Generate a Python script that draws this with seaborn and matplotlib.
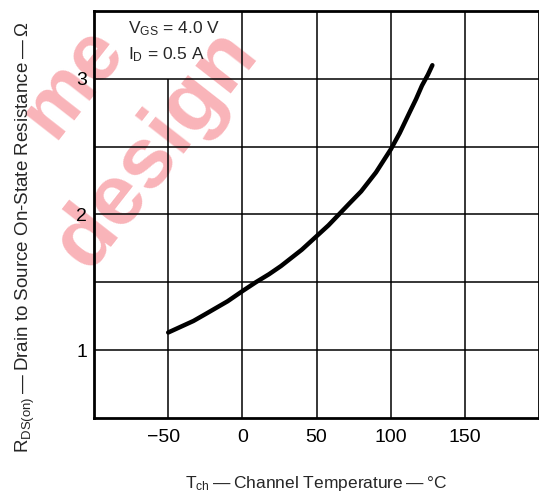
import numpy as np
import pandas as pd
import matplotlib
matplotlib.use("Agg")
import matplotlib.pyplot as plt
import matplotlib.transforms as mtransforms
import seaborn as sns

# curve
temp_c = [-50, -40, -33, -25, -10, 0, 9, 18, 26, 40, 50, 58, 65, 72, 80, 90, 100, 106, 113, 117, 121, 125, 128]
rds_on = [1.13, 1.18, 1.215, 1.265, 1.36, 1.435, 1.50, 1.56, 1.62, 1.74, 1.84, 1.92, 2.00, 2.08, 2.17, 2.31, 2.48, 2.60, 2.76, 2.85, 2.95, 3.03, 3.10]

x_ticks = [-50, 0, 50, 100, 150]
x_tick_labels = ["\u221250", "0", "50", "100", "150"]
y_ticks = [1, 2, 3]
y_tick_labels = ["1", "2", "3"]
x_grid = [-50, 0, 50, 100, 150]
x_grid_top = [3.0, 3.5, 3.5, 3.5, 3.5]
y_grid = [1.0, 1.5, 2.0, 2.5, 3.0]

sns.set_style("white")
plt.rcParams['font.family'] = ['Liberation Sans', 'DejaVu Sans']
plt.rcParams['mathtext.fontset'] = 'custom'
plt.rcParams['mathtext.rm'] = 'Liberation Sans'

fig = plt.figure(figsize=(5.39, 4.97), dpi=100)
ax = fig.add_axes([0.1744, 0.159, 0.826, 0.819])

# watermark (kept inside the frame, behind everything)
wm = dict(color='#f9b4b9', fontweight='bold', rotation=52,
          ha='center', va='center', zorder=-1, transform=fig.transFigure)
fig.text(0.29, 0.70, "design", fontsize=62, **wm)
fig.text(0.135, 0.835, "me", fontsize=58, **wm)

ax.set_xlim(-100, 200)
ax.set_ylim(0.5, 3.5)
ax.patch.set_alpha(0)

ax.vlines(x_grid, 0.5, x_grid_top, color='black', lw=1.1, zorder=2)
ax.hlines(y_grid, -100, 200, color='black', lw=1.1, zorder=2)

df = pd.DataFrame({'T': temp_c, 'R': rds_on})
sns.lineplot(data=df, x='T', y='R', ax=ax, color='black', lw=3.2, zorder=3,
             sort=True)

ax.set_xticks(x_ticks)
ax.set_xticklabels(x_tick_labels)
ax.set_yticks(y_ticks)
ax.set_yticklabels(y_tick_labels)
ax.tick_params(axis='both', length=0, labelsize=14, colors='black')
ax.tick_params(axis='x', pad=8)
ax.tick_params(axis='y', pad=5)

# minus-sign labels sit a little to the left, as in the reference
for lbl in ax.get_xticklabels():
    if lbl.get_text().startswith("\u2212"):
        lbl.set_transform(lbl.get_transform() +
                          mtransforms.ScaledTranslation(-5 / 100, 0, fig.dpi_scale_trans))

for side in ['left', 'bottom', 'top', 'right']:
    ax.spines[side].set_color('black')
    ax.spines[side].set_linewidth(2.0)

ax.set_xlabel("$\\mathregular{T_{ch}}$\u2009\u2014\u2009Channel Temperature\u2009\u2014\u2009\u00b0C",
              fontsize=12.5, labelpad=20)
ax.set_ylabel("$\\mathregular{R_{DS(on)}}$\u2009\u2014\u2009Drain to Source On-State Resistance\u2009\u2014\u2009\u03a9",
              fontsize=13.5)
ax.yaxis.set_label_coords(-0.128, 0.445)

ax.text(-77, 3.37, "$\\mathregular{V_{GS}}$ = 4.0 V", fontsize=12.5, va='center')
ax.text(-77, 3.18, "$\\mathregular{I_{D}}$ = 0.5 A", fontsize=12.5, va='center')

fig.savefig("out.png", dpi=100)
